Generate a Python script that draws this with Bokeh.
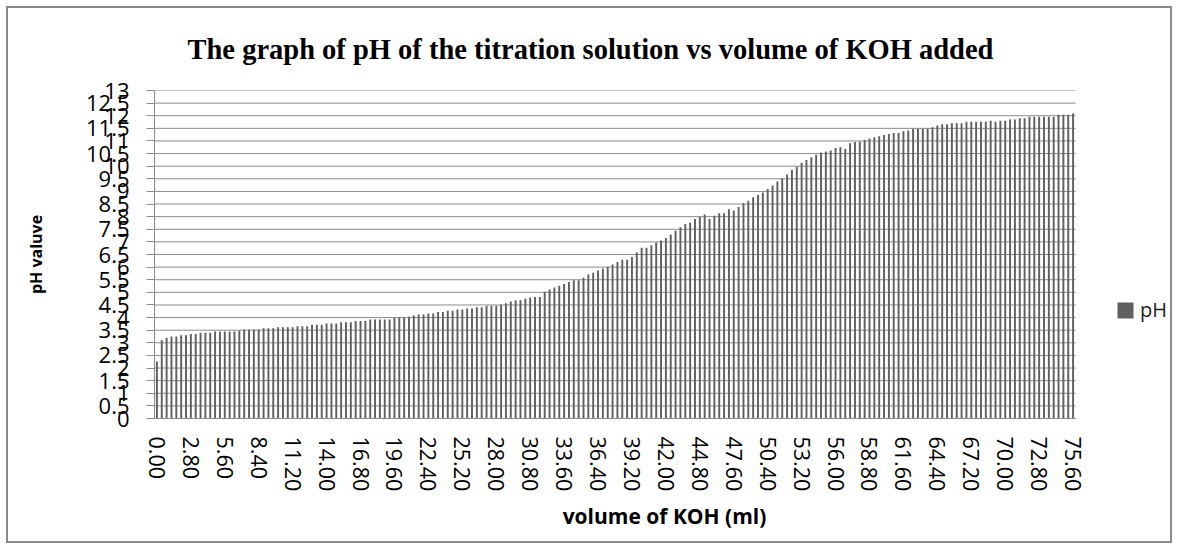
from bokeh.plotting import figure
from bokeh.models import (Range1d, FixedTicker, NumeralTickFormatter, Title, Legend, LegendItem)
from bokeh.embed import file_html
from bokeh.resources import INLINE

# volume of KOH added (ml) - category axis
volume_ml = [
    0.0, 0.4, 0.8, 1.2, 1.6, 2.0, 2.4, 2.8, 3.2, 3.6,
    4.0, 4.4, 4.8, 5.2, 5.6, 6.0, 6.4, 6.8, 7.2, 7.6,
    8.0, 8.4, 8.8, 9.2, 9.6, 10.0, 10.4, 10.8, 11.2, 11.6,
    12.0, 12.4, 12.8, 13.2, 13.6, 14.0, 14.4, 14.8, 15.2, 15.6,
    16.0, 16.4, 16.8, 17.2, 17.6, 18.0, 18.4, 18.8, 19.2, 19.6,
    20.0, 20.4, 20.8, 21.2, 21.6, 22.0, 22.4, 22.8, 23.2, 23.6,
    24.0, 24.4, 24.8, 25.2, 25.6, 26.0, 26.4, 26.8, 27.2, 27.6,
    28.0, 28.4, 28.8, 29.2, 29.6, 30.0, 30.4, 30.8, 31.2, 31.6,
    32.0, 32.4, 32.8, 33.2, 33.6, 34.0, 34.4, 34.8, 35.2, 35.6,
    36.0, 36.4, 36.8, 37.2, 37.6, 38.0, 38.4, 38.8, 39.2, 39.6,
    40.0, 40.4, 40.8, 41.2, 41.6, 42.0, 42.4, 42.8, 43.2, 43.6,
    44.0, 44.4, 44.8, 45.2, 45.6, 46.0, 46.4, 46.8, 47.2, 47.6,
    48.0, 48.4, 48.8, 49.2, 49.6, 50.0, 50.4, 50.8, 51.2, 51.6,
    52.0, 52.4, 52.8, 53.2, 53.6, 54.0, 54.4, 54.8, 55.2, 55.6,
    56.0, 56.4, 56.8, 57.2, 57.6, 58.0, 58.4, 58.8, 59.2, 59.6,
    60.0, 60.4, 60.8, 61.2, 61.6, 62.0, 62.4, 62.8, 63.2, 63.6,
    64.0, 64.4, 64.8, 65.2, 65.6, 66.0, 66.4, 66.8, 67.2, 67.6,
    68.0, 68.4, 68.8, 69.2, 69.6, 70.0, 70.4, 70.8, 71.2, 71.6,
    72.0, 72.4, 72.8, 73.2, 73.6, 74.0, 74.4, 74.8, 75.2, 75.6,
]

# pH readings, one per volume
ph_values = [
    2.26, 3.10, 3.20, 3.25, 3.25, 3.30, 3.30, 3.35, 3.35, 3.40,
    3.40, 3.40, 3.45, 3.45, 3.45, 3.45, 3.45, 3.48, 3.53, 3.53,
    3.53, 3.53, 3.58, 3.58, 3.58, 3.62, 3.62, 3.62, 3.62, 3.66,
    3.66, 3.66, 3.72, 3.72, 3.72, 3.77, 3.77, 3.77, 3.81, 3.81,
    3.81, 3.86, 3.86, 3.86, 3.92, 3.92, 3.92, 3.92, 3.92, 4.00,
    4.00, 4.00, 4.03, 4.08, 4.12, 4.12, 4.16, 4.16, 4.22, 4.22,
    4.27, 4.27, 4.32, 4.32, 4.36, 4.36, 4.41, 4.41, 4.47, 4.47,
    4.47, 4.52, 4.57, 4.64, 4.69, 4.69, 4.75, 4.80, 4.82, 4.82,
    5.02, 5.11, 5.19, 5.26, 5.33, 5.41, 5.48, 5.48, 5.58, 5.71,
    5.78, 5.87, 5.95, 6.01, 6.10, 6.20, 6.29, 6.29, 6.40, 6.58,
    6.77, 6.77, 6.87, 6.98, 7.05, 7.15, 7.29, 7.44, 7.58, 7.71,
    7.76, 7.91, 8.00, 8.09, 7.91, 8.04, 8.13, 8.13, 8.29, 8.24,
    8.38, 8.53, 8.63, 8.77, 8.86, 8.96, 9.10, 9.23, 9.39, 9.52,
    9.67, 9.85, 9.98, 10.14, 10.25, 10.35, 10.45, 10.54, 10.58, 10.62,
    10.72, 10.75, 10.68, 10.91, 10.96, 10.98, 11.04, 11.10, 11.15, 11.19,
    11.24, 11.28, 11.32, 11.32, 11.38, 11.41, 11.48, 11.48, 11.48, 11.48,
    11.54, 11.61, 11.66, 11.66, 11.70, 11.70, 11.70, 11.76, 11.76, 11.76,
    11.76, 11.76, 11.80, 11.76, 11.80, 11.80, 11.85, 11.85, 11.90, 11.90,
    11.96, 11.96, 11.96, 11.96, 11.96, 11.96, 12.04, 12.04, 12.04, 12.09,
]

y_ticks = [0, 0.5, 1, 1.5, 2, 2.5, 3, 3.5, 4, 4.5, 5, 5.5, 6, 6.5,
           7, 7.5, 8, 8.5, 9, 9.5, 10, 10.5, 11, 11.5, 12, 12.5, 13]
x_tick_volumes = volume_ml[::7]

title_text = "The graph of pH of the titration solution vs volume of KOH  added"
x_title = "volume of KOH (ml)"
y_title = "pH valuve"
series_name = "pH"

# layout (pixels)
W, H = 1166, 537
BL, BT, BB, BR = 146, 82, 127, 0
DATA_PX = 921          # width of the bar area; the legend sits right of it

step = volume_ml[1] - volume_ml[0]
x_lo = volume_ml[0] - step / 2
x_hi = volume_ml[-1] + step / 2
frame_px = W - BL - BR
x_end = x_lo + (x_hi - x_lo) * frame_px / DATA_PX

p = figure(width=W, height=H, output_backend="svg", toolbar_location=None,
           x_range=Range1d(x_lo, x_end), y_range=Range1d(0, 13),
           min_border_left=BL, min_border_right=BR,
           min_border_top=BT, min_border_bottom=BB)
p.styles = {"border": "2px solid #8a8a8a", "margin": "6px"}
p.outline_line_color = None
p.background_fill_color = "white"
p.border_fill_color = "white"

# horizontal gridlines limited to the bar area
p.segment(x0=[x_lo] * len(y_ticks), x1=[x_hi] * len(y_ticks),
          y0=y_ticks, y1=y_ticks, line_color="#8c8c8c", line_width=1)

bars = p.vbar(x=volume_ml, top=ph_values, width=step * 0.4, bottom=0,
              fill_color="#606060", line_color=None)

# title
p.title = Title(text=title_text, align="left", vertical_align="top",
                text_font="Liberation Serif", text_font_size="28.5px",
                text_font_style="bold", text_color="#000000",
                offset=33, standoff=48)

# x axis
xa = p.xaxis[0]
xa.bounds = (x_lo, x_hi)
xa.ticker = FixedTicker(ticks=x_tick_volumes)
xa.formatter = NumeralTickFormatter(format="0.00")
xa.major_label_orientation = "vertical"
xa.major_label_text_font = "Open Sans"
xa.major_label_text_font_size = "21.5px"
xa.major_label_text_color = "#000000"
xa.major_tick_out = 0
xa.major_tick_in = 0
xa.minor_tick_out = 0
xa.minor_tick_in = 0
xa.major_label_standoff = 18
xa.axis_line_color = "#8c8c8c"
xa.axis_label = x_title
xa.axis_label_text_font = "Open Sans"
xa.axis_label_text_font_size = "21px"
xa.axis_label_text_font_style = "bold"
xa.axis_label_text_color = "#000000"
xa.axis_label_standoff = 8

# y axis
ya = p.yaxis[0]
ya.ticker = FixedTicker(ticks=y_ticks)
ya.formatter = NumeralTickFormatter(format="0.[0]")
ya.major_label_text_font = "Open Sans"
ya.major_label_text_font_size = "22px"
ya.major_label_text_color = "#000000"
ya.major_tick_out = 8
ya.major_tick_in = 0
ya.minor_tick_out = 0
ya.minor_tick_in = 0
ya.major_tick_line_color = "#8c8c8c"
ya.major_label_standoff = 17
ya.axis_line_color = "#8c8c8c"
ya.axis_label = y_title
ya.axis_label_text_font = "Open Sans"
ya.axis_label_text_font_size = "16px"
ya.axis_label_text_font_style = "bold"
ya.axis_label_text_color = "#000000"
ya.axis_label_standoff = 36

p.xgrid.visible = False
p.ygrid.visible = False

lg = Legend(items=[LegendItem(label=series_name, renderers=[bars])],
            location=(DATA_PX + 40, 95))
lg.border_line_color = None
lg.background_fill_alpha = 0
lg.padding = 0
lg.margin = 0
lg.glyph_width = 20
lg.glyph_height = 20
lg.label_height = 20
lg.label_standoff = 5
lg.label_text_font = "Open Sans"
lg.label_text_font_size = "20px"
lg.label_text_color = "#222222"
p.add_layout(lg, "center")

open("out.html", "w").write(file_html(p, INLINE))
